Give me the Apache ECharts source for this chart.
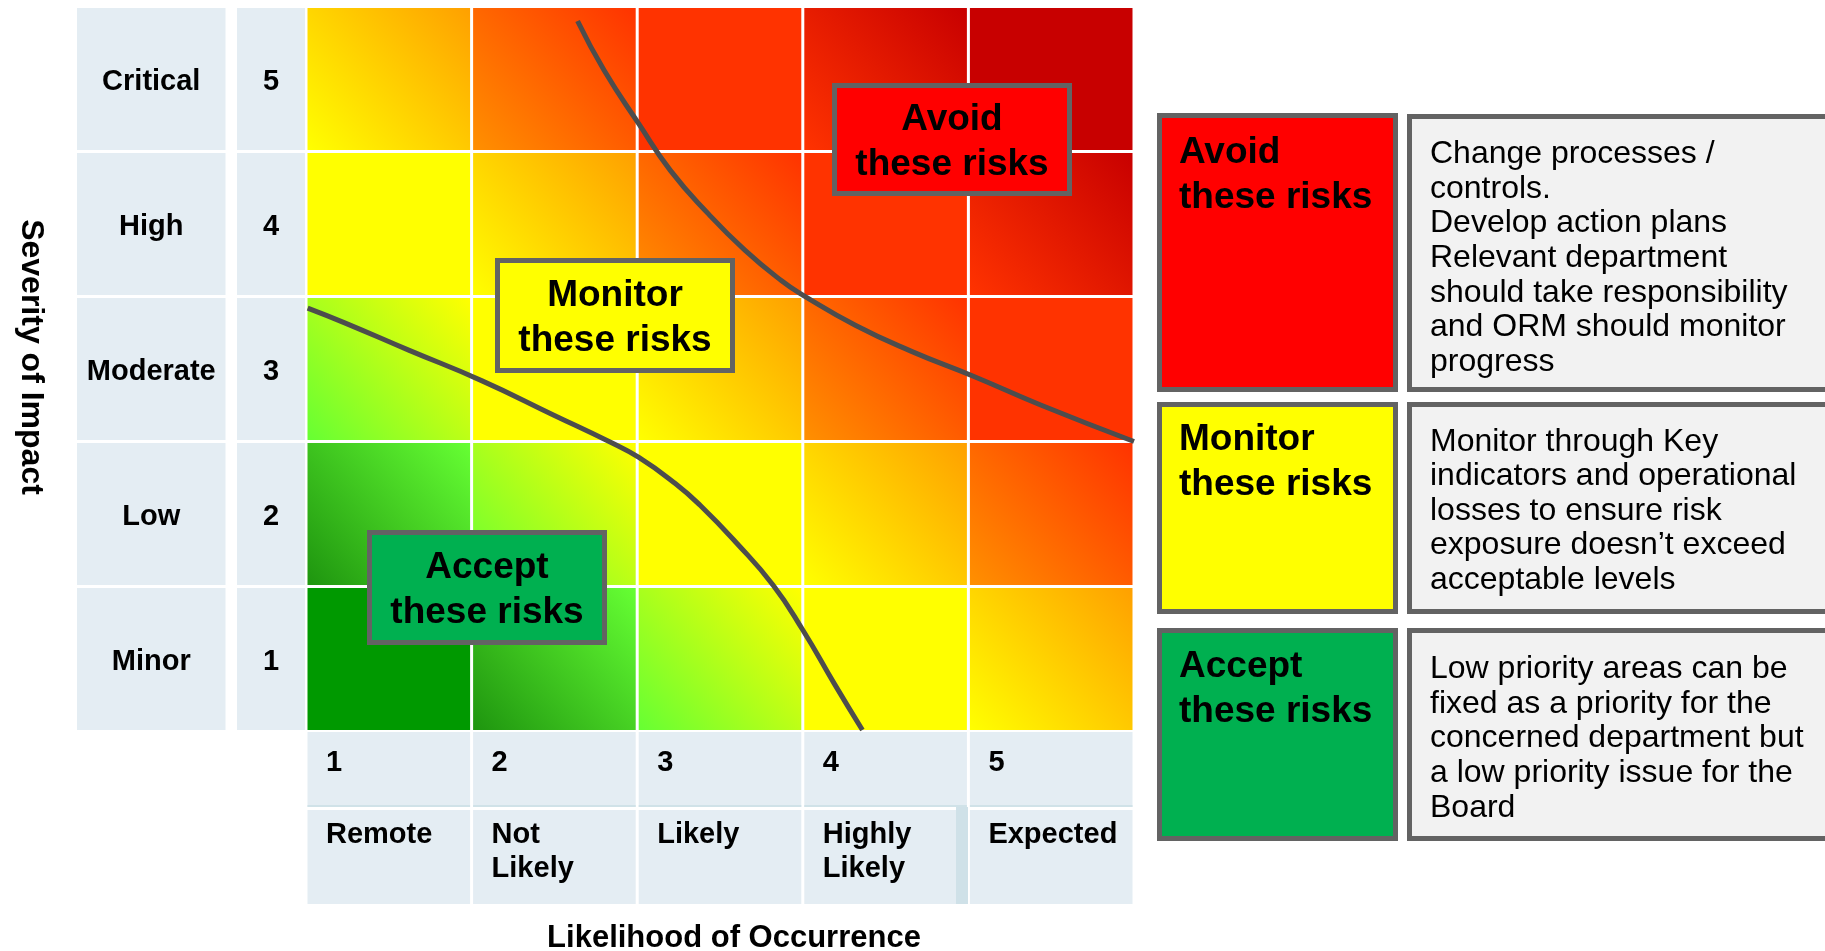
<!DOCTYPE html>
<html>
<head>
<meta charset="utf-8">
<script src="https://cdn.jsdelivr.net/npm/echarts@6/dist/echarts.min.js"></script>
<style>
html,body{margin:0;padding:0;background:#ffffff;}
#chart{width:1825px;height:951px;}
</style>
</head>
<body>
<div id="chart"></div>
<script>
// ---------------- data ----------------
const likelihoodScores = [1, 2, 3, 4, 5];
const likelihoodLabels = ['Remote', 'Not\nLikely', 'Likely', 'Highly\nLikely', 'Expected'];
const severityScores = [1, 2, 3, 4, 5];
const severityLabels = ['Minor', 'Low', 'Moderate', 'High', 'Critical'];

// colour band of each cell (likelihood 1..5), one array per severity level
const bandsMinor    = [0, 1, 2, 3, 4];
const bandsLow      = [1, 2, 3, 4, 5];
const bandsModerate = [2, 3, 4, 5, 6];
const bandsHigh     = [3, 4, 5, 6, 7];
const bandsCritical = [4, 5, 6, 7, 8];

// boundary curves as [likelihood, severity] points
const avoidBoundary = [
  [2.14, 5.40], [2.30, 5.06], [2.51, 4.69], [2.70, 4.37], [2.93, 4.07], [3.15, 3.82],
  [3.37, 3.61], [3.50, 3.51], [3.82, 3.30], [4.16, 3.12], [4.53, 2.95], [4.94, 2.75], [5.50, 2.50]
];
const acceptBoundary = [
  [0.51, 3.42], [0.73, 3.32], [1.12, 3.13], [1.56, 2.92], [2.00, 2.68], [2.33, 2.50],
  [2.51, 2.39], [2.73, 2.21], [2.88, 2.06], [3.10, 1.80], [3.32, 1.51], [3.50, 1.20],
  [3.69, 0.83], [3.86, 0.51]
];

const zoneTitles = ['Avoid\nthese risks', 'Monitor\nthese risks', 'Accept\nthese risks'];
const zoneNotes = [
  'Change processes /\ncontrols.\nDevelop action plans\nRelevant department\nshould take responsibility\nand ORM should monitor\nprogress',
  'Monitor through Key\nindicators and operational\nlosses to ensure risk\nexposure doesn\u2019t exceed\nacceptable levels',
  'Low priority areas can be\nfixed as a priority for the\nconcerned department but\na low priority issue for the\nBoard'
];

// ---------------- styles ----------------
const FONT = "'Liberation Sans', Arial, Helvetica, sans-serif";
const GAP = 3;
const LABEL_BG = '#E4EDF3';
const FRAME = '#636363';
const bandColors = [
  ['#009900', '#009900'],
  ['#1E950F', '#66FF33'],
  ['#66FF33', '#FFFF00'],
  ['#FFFF00', '#FFFF00'],
  ['#FFFF00', '#FFA000'],
  ['#FF9000', '#FF3300'],
  ['#FF3300', '#FF3300'],
  ['#FF3300', '#C80000'],
  ['#C80000', '#C80000']
];
const zoneFills = ['#FF0000', '#FFFF00', '#00B050'];

const bandRows = [bandsMinor, bandsLow, bandsModerate, bandsHigh, bandsCritical];
const cellData = [];
severityScores.forEach((s, si) => {
  likelihoodScores.forEach((l, li) => cellData.push([l, s, bandRows[si][li]]));
});

function bandBox(api, x, y) {
  const c = api.coord([x, y]);
  const s = api.size([1, 1]);
  return { x: c[0] - s[0] / 2 + GAP / 2, y: c[1] - s[1] / 2 + GAP / 2, width: s[0] - GAP, height: s[1] - GAP };
}

function txt(text, x, y, size, weight, align, valign, lineHeight) {
  return {
    text: text, x: x, y: y,
    font: weight + ' ' + size + 'px ' + FONT,
    fill: '#000000',
    align: align, textAlign: align,
    verticalAlign: valign, textVerticalAlign: valign,
    lineHeight: lineHeight
  };
}

const chart = echarts.init(document.getElementById('chart'), null, { renderer: 'canvas' });

const grids = [
  { left: 306, top: 6.5, width: 828, height: 725 },     // matrix
  { left: 75.5, top: 6.5, width: 151.5, height: 725 },  // severity names
  { left: 235.5, top: 6.5, width: 71, height: 725 },    // severity scores
  { left: 306, top: 730.5, width: 828, height: 78 },    // likelihood scores
  { left: 306, top: 808.5, width: 828, height: 97 }     // likelihood names
];
const xRanges = [[0.5, 5.5], [0, 1], [0, 1], [0.5, 5.5], [0.5, 5.5]];
const yRanges = [[0.5, 5.5], [0.5, 5.5], [0.5, 5.5], [0, 1], [0, 1]];

function framed(x0, y0, x1, y1, fill) {
  return { type: 'rect', z: 100, shape: { x: x0 + 2.5, y: y0 + 2.5, width: x1 - x0 - 5, height: y1 - y0 - 5 },
           style: { fill: fill, stroke: FRAME, lineWidth: 5 } };
}
function gtext(style) { return { type: 'text', z: 101, style: style }; }

const graphics = [
  { type: 'text', z: 101, x: 31, y: 357, rotation: -Math.PI / 2,
    style: txt('Severity of Impact', 0, 0, 32, 'bold', 'center', 'middle') },
  gtext(txt('Likelihood of Occurrence', 734, 938.5, 31, 'bold', 'center', 'middle')),
  { type: 'rect', z: 50, shape: { x: 956, y: 807, width: 12, height: 97 }, style: { fill: '#CFE1E8' } },
  // in-matrix zone labels
  framed(832, 83, 1072, 196, zoneFills[0]),
  gtext(txt(zoneTitles[0], 952, 142.5, 37, 'bold', 'center', 'middle', 45)),
  framed(495, 258, 735, 373, zoneFills[1]),
  gtext(txt(zoneTitles[1], 615, 318, 37, 'bold', 'center', 'middle', 45)),
  framed(367, 530, 607, 645, zoneFills[2]),
  gtext(txt(zoneTitles[2], 487, 590, 37, 'bold', 'center', 'middle', 45)),
  // right-hand key
  framed(1157, 113, 1398, 392, zoneFills[0]),
  gtext(txt(zoneTitles[0], 1179, 130.5, 37, 'bold', 'left', 'top', 45)),
  framed(1407, 114, 1834, 392, '#F2F2F2'),
  gtext(txt(zoneNotes[0], 1430, 137, 32, 'normal', 'left', 'top', 34.6)),
  framed(1157, 402, 1398, 614, zoneFills[1]),
  gtext(txt(zoneTitles[1], 1179, 417, 37, 'bold', 'left', 'top', 45)),
  framed(1407, 402, 1834, 614, '#F2F2F2'),
  gtext(txt(zoneNotes[1], 1430, 424.5, 32, 'normal', 'left', 'top', 34.6)),
  framed(1157, 628, 1398, 841, zoneFills[2]),
  gtext(txt(zoneTitles[2], 1179, 644.5, 37, 'bold', 'left', 'top', 45)),
  framed(1407, 628, 1834, 841, '#F2F2F2'),
  gtext(txt(zoneNotes[2], 1430, 652, 32, 'normal', 'left', 'top', 34.6))
];

const option = {
  animation: false,
  backgroundColor: '#ffffff',
  grid: grids,
  xAxis: grids.map((g, i) => ({ type: 'value', gridIndex: i, min: xRanges[i][0], max: xRanges[i][1], show: false })),
  yAxis: grids.map((g, i) => ({ type: 'value', gridIndex: i, min: yRanges[i][0], max: yRanges[i][1], show: false })),
  graphic: { elements: graphics },
  series: [
    {
      type: 'custom', name: 'cells', xAxisIndex: 0, yAxisIndex: 0, silent: true, z: 2,
      data: cellData,
      encode: { x: 0, y: 1 },
      renderItem: function (params, api) {
        const r = bandBox(api, api.value(0), api.value(1));
        const b = bandColors[api.value(2)];
        return { type: 'rect', shape: r, style: { fill: { type: 'linear', x: 0, y: 1, x2: 1, y2: 0,
          colorStops: [{ offset: 0, color: b[0] }, { offset: 1, color: b[1] }] } } };
      }
    },
    {
      type: 'custom', name: 'severityNames', xAxisIndex: 1, yAxisIndex: 1, silent: true, z: 2,
      data: severityScores.map(s => [0.5, s]),
      encode: { x: 0, y: 1 },
      renderItem: function (params, api) {
        const r = bandBox(api, api.value(0), api.value(1));
        return { type: 'group', children: [
          { type: 'rect', shape: r, style: { fill: LABEL_BG } },
          { type: 'text', style: txt(severityLabels[params.dataIndex], r.x + r.width / 2, r.y + r.height / 2 + 3, 29, 'bold', 'center', 'middle') }
        ] };
      }
    },
    {
      type: 'custom', name: 'severityScores', xAxisIndex: 2, yAxisIndex: 2, silent: true, z: 2,
      data: severityScores.map(s => [0.5, s]),
      encode: { x: 0, y: 1 },
      renderItem: function (params, api) {
        const r = bandBox(api, api.value(0), api.value(1));
        return { type: 'group', children: [
          { type: 'rect', shape: r, style: { fill: LABEL_BG } },
          { type: 'text', style: txt(String(severityScores[params.dataIndex]), r.x + r.width / 2, r.y + r.height / 2 + 3, 29, 'bold', 'center', 'middle') }
        ] };
      }
    },
    {
      type: 'custom', name: 'likelihoodScores', xAxisIndex: 3, yAxisIndex: 3, silent: true, z: 2,
      data: likelihoodScores.map(l => [l, 0.5]),
      encode: { x: 0, y: 1 },
      renderItem: function (params, api) {
        const r = bandBox(api, api.value(0), api.value(1));
        return { type: 'group', children: [
          { type: 'rect', shape: r, style: { fill: LABEL_BG } },
          { type: 'rect', shape: { x: r.x, y: r.y + r.height - 2, width: r.width, height: 2 }, style: { fill: '#D0E2E8' } },
          { type: 'text', style: txt(String(likelihoodScores[params.dataIndex]), r.x + 18.5, r.y + 31, 29, 'bold', 'left', 'middle') }
        ] };
      }
    },
    {
      type: 'custom', name: 'likelihoodNames', xAxisIndex: 4, yAxisIndex: 4, silent: true, z: 2,
      data: likelihoodScores.map(l => [l, 0.5]),
      encode: { x: 0, y: 1 },
      renderItem: function (params, api) {
        const r = bandBox(api, api.value(0), api.value(1));
        return { type: 'group', children: [
          { type: 'rect', shape: r, style: { fill: LABEL_BG } },
          { type: 'text', style: txt(likelihoodLabels[params.dataIndex], r.x + 18.5, r.y + 8, 29, 'bold', 'left', 'top', 34) }
        ] };
      }
    },
    {
      type: 'line', name: 'avoidBoundary', xAxisIndex: 0, yAxisIndex: 0, z: 5, silent: true, clip: false,
      data: avoidBoundary, smooth: 0.5, symbol: 'none',
      lineStyle: { color: '#4D4D4D', width: 5 }
    },
    {
      type: 'line', name: 'acceptBoundary', xAxisIndex: 0, yAxisIndex: 0, z: 5, silent: true, clip: false,
      data: acceptBoundary, smooth: 0.5, symbol: 'none',
      lineStyle: { color: '#4D4D4D', width: 5 }
    }
  ]
};
chart.setOption(option);
</script>
</body>
</html>
